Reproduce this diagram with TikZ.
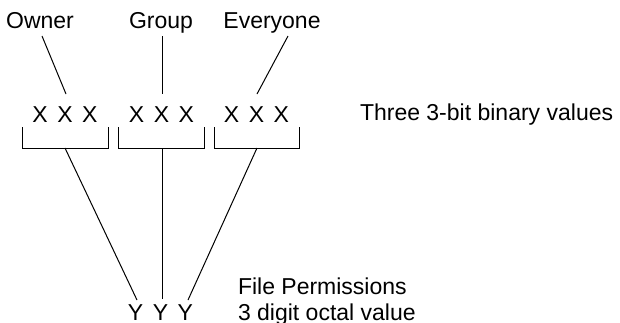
\documentclass[tikz,border=0pt]{standalone}
\usepackage{fontspec}
\setmainfont{Liberation Sans}
\usetikzlibrary{calc}
\begin{document}
\begin{tikzpicture}[x=1pt,y=-1pt,
  lbl/.style={inner sep=0pt, outer sep=0pt, font=\fontsize{23}{26}\selectfont},
  trip/.style={lbl, anchor=base},
  conn/.style={line width=1pt, black},
  brk/.style={line width=1pt, black}]
\useasboundingbox (0,0) rectangle (620,322);
% top labels
\node[trip] (owner) at (40,28.5) {Owner};
\node[trip] (group) at (161,28.5) {Group};
\node[trip] (every) at (272,28.5) {Everyone};
% binary triples
\newcommand{\trio}[1]{#1\hspace{9.5pt}#1\hspace{9.5pt}#1}
\node[trip] (g1) at (65,122) {\trio{X}};
\node[trip] (g2) at (161.5,122) {\trio{X}};
\node[trip] (g3) at (256.5,122) {\trio{X}};
\node[lbl, anchor=base west] (three) at (360,120) {Three 3-bit binary values};
% octal
\node[trip] (yy) at (160.5,320) {\trio{Y}};
\node[lbl, anchor=base west] (fp) at (238,294) {File Permissions};
\node[lbl, anchor=base west] (oct) at (238,320) {3 digit octal value};
% brackets
\coordinate (b1) at (65,148);
\coordinate (b2) at (161.5,148);
\coordinate (b3) at (256.5,148);
\draw[brk] ($(b1)+(-43,-21)$) |- ($(b1)+(43,0)$) -- ++(0,-21);
\draw[brk] ($(b2)+(-43.5,-21)$) |- ($(b2)+(42.5,0)$) -- ++(0,-21);
\draw[brk] ($(b3)+(-42.5,-21)$) |- ($(b3)+(42.5,0)$) -- ++(0,-21);
% upper connectors
\draw[conn] ($(owner.base)+(2,7.5)$) -- ($(g1.base)+(1,-28)$);
\draw[conn] ($(group.base)+(1,7.5)$) -- ($(g2.base)+(0.5,-28)$);
\draw[conn] ($(every.base)+(16,7.5)$) -- ($(g3.base)+(0.5,-28)$);
% lower connectors
\draw[conn] (b1) -- ($(yy.base)+(-23.5,-20)$);
\draw[conn] ($(b2)+(0.5,0)$) -- ($(yy.base)+(1.5,-21)$);
\draw[conn] ($(b3)+(0.5,0)$) -- ($(yy.base)+(27.5,-20)$);
\end{tikzpicture}
\end{document}
